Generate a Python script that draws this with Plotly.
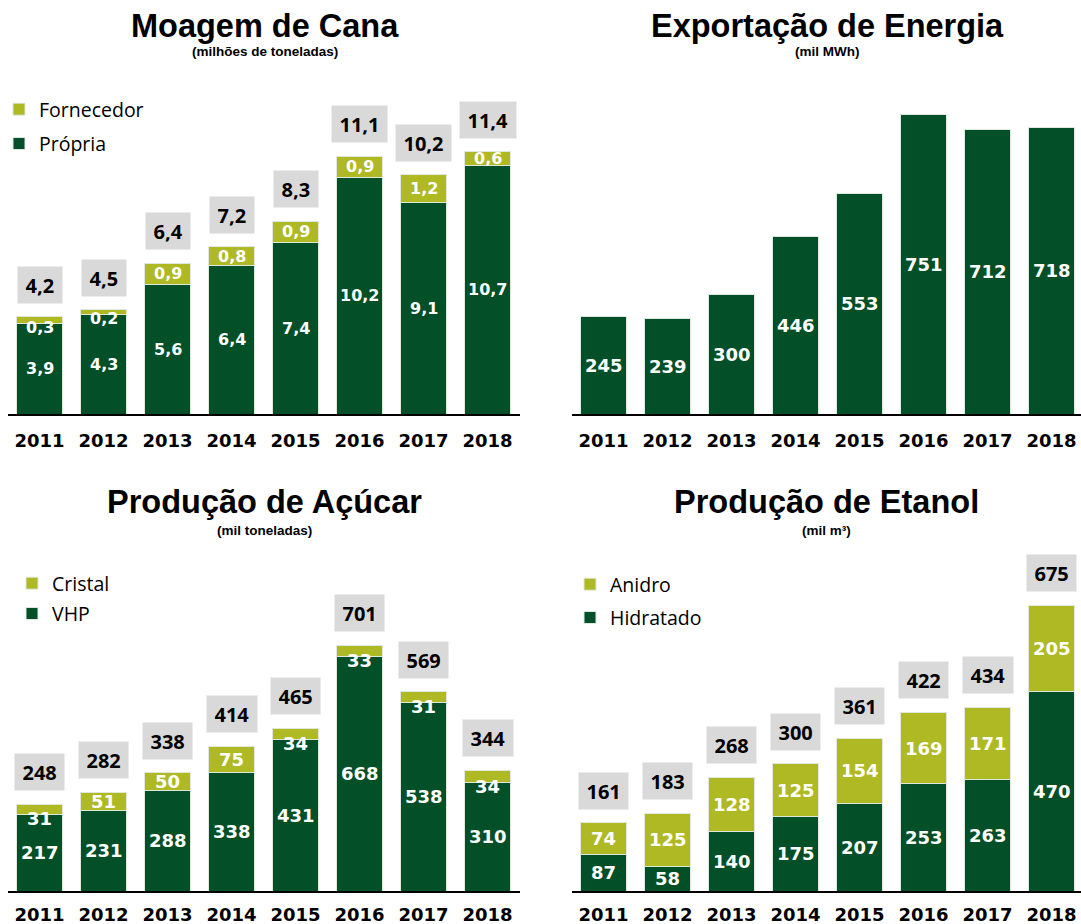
import plotly.graph_objects as go

# ---------------- data ----------------
years = ["2011", "2012", "2013", "2014", "2015", "2016", "2017", "2018"]

moagem_propria = [3.9, 4.3, 5.6, 6.4, 7.4, 10.2, 9.1, 10.7]
moagem_fornecedor = [0.3, 0.2, 0.9, 0.8, 0.9, 0.9, 1.2, 0.6]
moagem_total = ["4,2", "4,5", "6,4", "7,2", "8,3", "11,1", "10,2", "11,4"]

energia = [245, 239, 300, 446, 553, 751, 712, 718]

acucar_vhp = [217, 231, 288, 338, 431, 668, 538, 310]
acucar_cristal = [31, 51, 50, 75, 34, 33, 31, 34]
acucar_total = ["248", "282", "338", "414", "465", "701", "569", "344"]

etanol_hidratado = [87, 58, 140, 175, 207, 253, 263, 470]
etanol_anidro = [74, 125, 128, 125, 154, 169, 171, 205]
etanol_total = ["161", "183", "268", "300", "361", "422", "434", "675"]

# ---------------- style ----------------
W, H = 1081, 924
DARK = "#034f28"
OLIVE = "#afb924"
BOX = "#d9d9d9"
LBL_FONT = "DejaVu Sans"
TOT_FONT = "Open Sans"
TITLE_FONT = "Liberation Sans"

xpos = list(range(len(years)))


def px_x(v):
    return v / W


def px_y(v):
    return 1 - v / H


fig = go.Figure()

# panel geometry in pixels
panels = {
    "moagem": dict(ax="", xd=(7.5, 519.5), xr=[-0.5, 7.5], yt=100, yb=414, ymax=13.53, so=9),
    "energia": dict(ax="2", xd=(571.5, 1081), xr=[-0.5, 7.46], yt=100, yb=414, ymax=787, so=9),
    "acucar": dict(ax="3", xd=(7.5, 519.5), xr=[-0.5, 7.5], yt=580, yb=891, ymax=887.3, so=6),
    "etanol": dict(ax="4", xd=(571.5, 1081), xr=[-0.5, 7.46], yt=560, yb=891, ymax=781.2, so=6),
}

annotations = []


def fmt(v, dec):
    if dec:
        return f"{v:.1f}".replace(".", ",")
    return f"{v:d}"


def axes_for(key):
    p = panels[key]
    ax = p["ax"]
    xa, ya = "x" + ax, "y" + ax
    fig.update_layout(**{
        "xaxis" + ax: dict(
            domain=[px_x(p["xd"][0]), px_x(p["xd"][1])], range=p["xr"], anchor=ya,
            showline=True, linecolor="black", linewidth=2, ticks="", showgrid=False,
            zeroline=False, tickmode="array", tickvals=xpos, ticktext=years,
            tickfont=dict(family=LBL_FONT, size=18, color="black", weight="bold"),
            ticklabelstandoff=p["so"], automargin=False, fixedrange=True,
        ),
        "yaxis" + ax: dict(
            domain=[px_y(p["yb"]), px_y(p["yt"])], range=[0, p["ymax"]], anchor=xa,
            visible=False, showgrid=False, zeroline=False, automargin=False, fixedrange=True,
        ),
    })
    return xa, ya, (p["yb"] - p["yt"]) / p["ymax"]


def add_panel(key, series, names, colors, totals, dec, legend, lbl_size):
    xa, ya, scale = axes_for(key)
    base = [0] * len(years)
    n = len(series)
    for i, (vals, name, col) in enumerate(zip(series, names, colors)):
        fig.add_trace(go.Bar(
            x=xpos, y=vals, name=name,
            marker=dict(color=col, line=dict(color="#dfe8df", width=1)),
            xaxis=xa, yaxis=ya, legend=legend, showlegend=legend is not None,
            legendgroup=f"{key}{i}", legendrank=n - i, hoverinfo="skip",
        ))
        for j, v in enumerate(vals):
            if v * scale < 13:
                yv, ysh = base[j], -4
            else:
                yv, ysh = base[j] + v / 2, 0
            annotations.append(dict(
                x=xpos[j], y=yv, xref=xa, yref=ya, text=fmt(v, dec), showarrow=False,
                yshift=ysh, font=dict(family=LBL_FONT, size=lbl_size, color="white", weight="bold"),
            ))
        base = [b + v for b, v in zip(base, vals)]
    if totals is not None:
        for j, t in enumerate(totals):
            annotations.append(dict(
                x=xpos[j], y=base[j], xref=xa, yref=ya, text=t, showarrow=False,
                yanchor="bottom", yshift=13, bgcolor=BOX, borderpad=7.5, height=21,
                font=dict(family=TOT_FONT, size=20, color="black", weight="bold"),
            ))


add_panel("moagem", [moagem_propria, moagem_fornecedor], ["Própria", "Fornecedor"],
          [DARK, OLIVE], moagem_total, True, "legend", 16)
add_panel("energia", [energia], ["Energia"], [DARK], None, False, None, 18)
add_panel("acucar", [acucar_vhp, acucar_cristal], ["VHP", "Cristal"],
          [DARK, OLIVE], acucar_total, False, "legend3", 18)
add_panel("etanol", [etanol_hidratado, etanol_anidro], ["Hidratado", "Anidro"],
          [DARK, OLIVE], etanol_total, False, "legend4", 18)

# titles
titles = [
    ("Moagem de Cana", "(milhões de toneladas)", 264.5, 26, 52),
    ("Exportação de Energia", "(mil MWh)", 827, 26, 52),
    ("Produção de Açúcar", "(mil toneladas)", 264, 502, 530),
    ("Produção de Etanol", "(mil m³)", 826.5, 502, 530),
]
for t, s, cx, ty, sy in titles:
    annotations.append(dict(x=px_x(cx), y=px_y(ty), xref="paper", yref="paper", text=t,
                            showarrow=False, xanchor="center", yanchor="middle",
                            font=dict(family=TITLE_FONT, size=32.5, color="black", weight="bold")))
    annotations.append(dict(x=px_x(cx), y=px_y(sy), xref="paper", yref="paper", text=s,
                            showarrow=False, xanchor="center", yanchor="middle",
                            font=dict(family=TITLE_FONT, size=13.5, color="black", weight="bold")))

leg_common = dict(bgcolor="rgba(0,0,0,0)", font=dict(family=TOT_FONT, size=19.5, color="black"),
                  traceorder="grouped", itemwidth=30, xanchor="left", yanchor="top",
                  orientation="v")
fig.update_layout(
    legend=dict(x=px_x(-1), y=px_y(90), tracegroupgap=6, **leg_common),
    legend3=dict(x=px_x(12), y=px_y(564), tracegroupgap=2, **leg_common),
    legend4=dict(x=px_x(570), y=px_y(565), tracegroupgap=5, **leg_common),
)

fig.update_layout(
    width=W, height=H, margin=dict(l=0, r=0, t=0, b=0, autoexpand=False),
    paper_bgcolor="white", plot_bgcolor="white",
    barmode="stack", bargap=0.29,
    annotations=annotations,
)

fig.write_html("out.html", config={"displayModeBar": False, "staticPlot": True},
               post_script="document.body.style.margin='0';document.body.style.overflow='hidden';")
